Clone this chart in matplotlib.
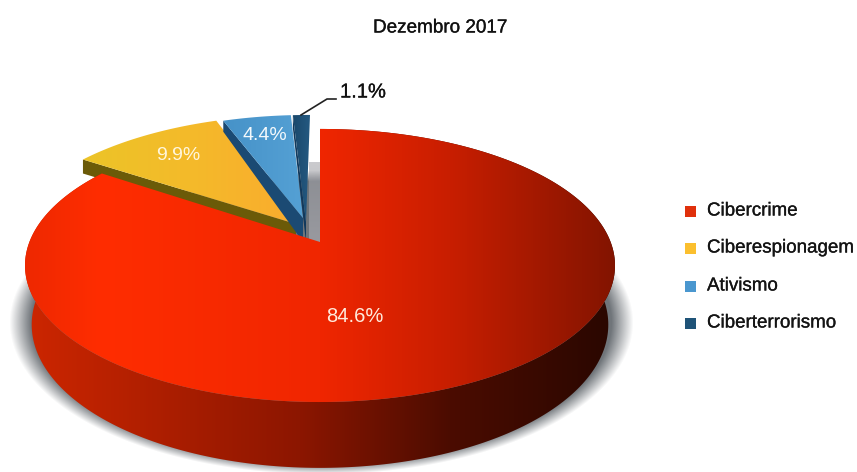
import numpy as np
import matplotlib
matplotlib.use("Agg")
import matplotlib.pyplot as plt
import matplotlib.patheffects as pe
from matplotlib.patches import Polygon, Rectangle

plt.rcParams['font.family'] = ['Liberation Sans', 'DejaVu Sans']

title = "Dezembro 2017"
labels = ["Cibercrime", "Ciberespionagem", "Ativismo", "Ciberterrorismo"]
values = [84.6, 9.9, 4.4, 1.1]
legend_colors = ["#e0300c", "#fbbf2e", "#4a97cf", "#1f5378"]

W, H = 857, 472

# perspective of the pie top and of its bottom rim
CX = 320
TOP_Y0, TOP_A, TOP_B = 242, 290.6, 132.5
BOT_Y0, BOT_A, BOT_B = 300, 284, 139
PERSP = 0.172

# pulled out slices: pixel shift of the rim and of the tip, wall depth at rim and tip
rim_shift = [(0, 0), (-19, -14), (-12, -14), (-10, -14)]
tip_shift = [(0, 0), (-24, -18), (-17, -24), (-14, -20)]
wall_depth = [(0, 0), (14, 14), (11, 24), (13, 20)]

top_stops = ([25, 100, 320, 450, 615], [(238, 40, 0), (255, 45, 0), (240, 38, 0), (200, 30, 0), (130, 20, 0)])
side_stops = ([25, 300, 450, 610], [(205, 38, 0), (140, 22, 0), (75, 12, 0), (42, 7, 0)])
slice_top_stops = [
    top_stops,
    ([85, 190, 296], [(236, 196, 40), (244, 186, 42), (250, 172, 46)]),
    ([223, 300], [(70, 146, 200), (84, 160, 212)]),
    ([293, 309], [(26, 72, 108), (36, 88, 128)]),
]
wall_colors = ["#8a1500", "#6b5a08", "#1b4a73", "#12395c"]

# a faint outline thickens the black text a little
heavy = [pe.withStroke(linewidth=0.2, foreground="#111111")]


def project(ang, y0, a, b):
    # angle runs clockwise from twelve o'clock
    u = np.sin(ang)
    v = np.cos(ang)
    w = 1 + PERSP * v
    return CX + a * u / w, y0 - b * v / w


def gradient_image(ax, stops, path_patch, zorder):
    xs, cols = stops
    cols = np.array(cols, dtype=float) / 255
    grid = np.arange(W)
    row = np.stack([np.interp(grid, xs, cols[:, i]) for i in range(3)], axis=1)
    img = ax.imshow(row[np.newaxis, :, :], extent=(0, W, H, 0), aspect='auto',
                    zorder=zorder, interpolation='bilinear')
    path_patch.set_visible(False)
    ax.add_patch(path_patch)
    img.set_clip_path(path_patch)


fig = plt.figure(figsize=(W / 100, H / 100), dpi=100)
ax = fig.add_axes([0, 0, 1, 1])
ax.axis('off')

# soft grey shadow on the ground under the pie
yy, xx = np.mgrid[0:H, 0:W]
dist = np.sqrt(((xx - (CX + 1)) / 312.0) ** 2 + ((yy - 322) / 152.0) ** 2)
shadow = np.zeros((H, W, 4))
shadow[..., :3] = np.array([112, 117, 122]) / 255
shadow[..., 3] = np.clip((1 - dist) / 0.07, 0, 1)
ax.imshow(shadow, extent=(0, W, H, 0), aspect='auto', zorder=1)

shares = np.array(values) / sum(values) * 2 * np.pi
ends = np.cumsum(shares)
starts = ends - shares

# slices at the back come first, the big one is painted over them
for i in [1, 2, 3]:
    arc = np.linspace(starts[i], ends[i], 40)
    ax_, ay_ = project(arc, TOP_Y0, TOP_A, TOP_B)
    ax_ = ax_ + rim_shift[i][0]
    ay_ = ay_ + rim_shift[i][1]
    tip = (CX + tip_shift[i][0], TOP_Y0 + tip_shift[i][1])
    d_rim, d_tip = wall_depth[i]
    # cut wall on the left side of the slice
    wall = [(ax_[0], ay_[0]), tip, (tip[0], tip[1] + d_tip), (ax_[0], ay_[0] + d_rim)]
    ax.add_patch(Polygon(wall, closed=True, fc=wall_colors[i], ec='none', zorder=2 + i))
    pts = [tip] + list(zip(ax_, ay_))
    gradient_image(ax, slice_top_stops[i], Polygon(pts, closed=True, transform=ax.transData), 2.5 + i)

# grey shade cast on the inner cut of the big slice
notch = np.zeros((80, 1, 4))
notch[..., :3] = np.array([160, 160, 166]) / 255
notch[:, 0, 3] = np.linspace(0.55, 0.85, 80)
ax.imshow(notch, extent=(CX - 11, CX, TOP_Y0, TOP_Y0 - 80), aspect='auto', zorder=6)

# big slice: outer wall, then top
arc = np.linspace(starts[0], ends[0], 300)
tx, ty = project(arc, TOP_Y0, TOP_A, TOP_B)
bx, by = project(arc, BOT_Y0, BOT_A, BOT_B)
wall_pts = list(zip(tx, ty)) + list(zip(bx[::-1], by[::-1]))
gradient_image(ax, side_stops, Polygon(wall_pts, closed=True, transform=ax.transData), 7)
top_pts = [(CX, TOP_Y0)] + list(zip(tx, ty))
gradient_image(ax, slice_top_stops[0], Polygon(top_pts, closed=True, transform=ax.transData), 8)

ax.set_xlim(0, W)
ax.set_ylim(H, 0)

# value labels
ax.text(355, 316, f"{values[0]}%", color="#ffeadc", fontsize=14.5, ha='center', va='center', zorder=10)
ax.text(178, 155, f"{values[1]}%", color="#fff6dc", fontsize=14, ha='center', va='center', zorder=10)
ax.text(265, 135, f"{values[2]}%", color="#f4f9fc", fontsize=14, ha='center', va='center', zorder=10)
ax.text(340, 92, f"{values[3]}%", color="#111111", fontsize=14.5, ha='left', va='center', zorder=10,
        path_effects=heavy)
ax.plot([301, 327, 336], [115, 99, 99], color="#222222", lw=1.2, zorder=9)

ax.text(440, 28, title, color="#111111", fontsize=13.6, ha='center', va='center', zorder=10,
        path_effects=heavy)

# legend
legend_y = [211, 248, 286, 323]
for name, col, y in zip(labels, legend_colors, legend_y):
    ax.add_patch(Rectangle((685, y - 5.5), 11, 11, fc=col, ec='none', zorder=10))
    ax.text(707, y, name, color="#141414", fontsize=13.5, ha='left', va='center', zorder=10,
            path_effects=heavy)

fig.savefig("out.png", dpi=100)
